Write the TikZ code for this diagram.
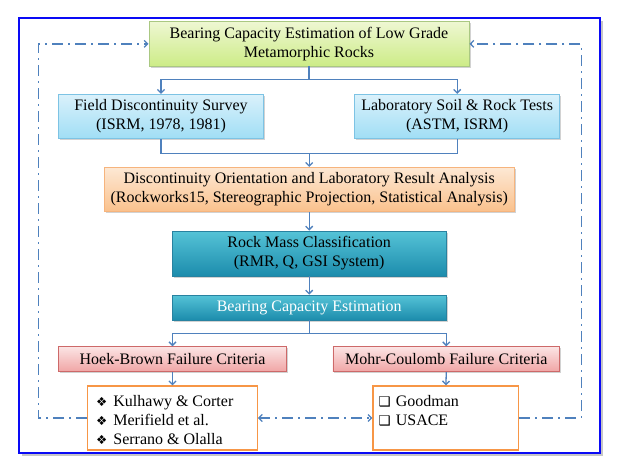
\documentclass[tikz,border=0pt]{standalone}
\usepackage{fontspec}
\setmainfont{Liberation Serif}
\newfontfamily\dejavu{DejaVu Sans}
\usetikzlibrary{arrows.meta,shadows,calc}
\definecolor{conn}{RGB}{79,129,189}
\definecolor{frameblue}{RGB}{10,10,245}
\definecolor{gTop}{RGB}{238,247,210}
\definecolor{gBot}{RGB}{205,236,135}
\definecolor{gBd}{RGB}{170,200,130}
\definecolor{bTop}{RGB}{218,241,251}
\definecolor{bBot}{RGB}{160,222,245}
\definecolor{bBd}{RGB}{125,195,228}
\definecolor{oTop}{RGB}{253,232,212}
\definecolor{oBot}{RGB}{250,193,140}
\definecolor{oBd}{RGB}{246,180,125}
\definecolor{tTop}{RGB}{85,195,215}
\definecolor{tBot}{RGB}{28,140,172}
\definecolor{tBd}{RGB}{40,130,160}
\definecolor{pTop}{RGB}{251,228,228}
\definecolor{pBot}{RGB}{240,165,165}
\definecolor{pBd}{RGB}{205,105,105}
\definecolor{lBd}{RGB}{247,150,70}
\tikzset{
  box/.style={draw, line width=0.8pt, align=center, inner sep=0pt,
    font=\fontsize{16}{19}\selectfont,
    drop shadow={shadow xshift=1.5pt, shadow yshift=-1.5pt, opacity=0.35}},
  greenbox/.style={box, draw=gBd, top color=gTop, bottom color=gBot},
  bluebox/.style={box, draw=bBd, top color=bTop, bottom color=bBot},
  orangebox/.style={box, draw=oBd, top color=oTop, bottom color=oBot},
  tealbox/.style={box, draw=tBd, top color=tTop, bottom color=tBot},
  pinkbox/.style={box, draw=pBd, top color=pTop, bottom color=pBot},
  listbox/.style={draw=lBd, line width=1.2pt, fill=white, inner sep=0pt},
  listtext/.style={anchor=north west, inner sep=0pt, align=left,
    font=\fontsize{16}{19}\selectfont},
  arr/.style={draw=conn, line width=1.3pt, -{Straight Barb[length=3.5pt,width=7pt]}},
  ln/.style={draw=conn, line width=1.3pt},
  dd/.style={draw=conn, line width=1.3pt,
    dash pattern=on 11pt off 5pt on 2pt off 5pt},
  ddtip/.style={-{Straight Barb[length=3.5pt,width=7pt]}}
}
\newcommand{\dia}{{\dejavu\fontsize{12.5}{19}\selectfont ❖}\hspace{6pt}}
\newcommand{\sqb}{{\dejavu\fontsize{13.5}{19}\selectfont ❑}\hspace{5pt}}
\begin{document}
\begin{tikzpicture}[x=1pt,y=-1pt]
\useasboundingbox (0,0) rectangle (633,464);
% frame
\path[draw=frameblue, line width=2pt, fill=white,
  drop shadow={shadow xshift=3pt, shadow yshift=-3pt, opacity=0.45}]
  (19.3,18.3) rectangle (600,452.7);
% nodes
\node[greenbox, minimum width=320pt, minimum height=44.3pt] (title) at (309,43.85)
  {Bearing Capacity Estimation of Low Grade\\Metamorphic Rocks};
\node[bluebox, minimum width=205.4pt, minimum height=44.5pt] (field) at (161,116.5)
  {Field Discontinuity Survey\\(ISRM, 1978, 1981)};
\node[bluebox, minimum width=205pt, minimum height=44.5pt] (lab) at (457.2,116.5)
  {Laboratory Soil \& Rock Tests\\(ASTM, ISRM)};
\node[orangebox, minimum width=410.3pt, minimum height=44.4pt] (orange) at (309.2,189.5)
  {Discontinuity Orientation and Laboratory Result Analysis\\(Rockworks15, Stereographic Projection, Statistical Analysis)};
\node[tealbox, minimum width=273.7pt, minimum height=45pt] (rmc) at (309.2,253.5)
  {Rock Mass Classification\\(RMR, Q, GSI System)};
\node[tealbox, minimum width=273.7pt, minimum height=25pt, text=white] (bce) at (309.2,307.5)
  {Bearing Capacity Estimation};
\node[pinkbox, minimum width=228.4pt, minimum height=25pt] (hoek) at (172.5,359.2)
  {Hoek-Brown Failure Criteria};
\node[pinkbox, minimum width=226.7pt, minimum height=25pt] (mohr) at (446.3,359.2)
  {Mohr-Coulomb Failure Criteria};
\node[listbox, minimum width=169.6pt, minimum height=64pt] (llist) at (172.5,418) {};
\node[listbox, minimum width=145.7pt, minimum height=64pt] (rlist) at (445.9,418) {};
% list texts
\node[listtext] (ltext) at (96,395)
  {\dia Kulhawy \& Corter\\ \dia Merifield et al.\\ \dia Serrano \& Olalla};
\node[listtext] (rtext) at (378.5,395)
  {\sqb Goodman\\ \sqb USACE};
% connectors
\draw[arr] (title.south) -- ++(0,13.3) -| (field.north);
\draw[arr] (title.south) -- ++(0,13.3) -| (lab.north);
\coordinate (m1) at (309.2,153.3);
\draw[ln] (field.south) |- (m1) -| (lab.south);
\draw[arr] (m1) -- (orange.north);
\draw[arr] (orange.south) -- (rmc.north);
\draw[arr] (rmc.south) -- (bce.north);
\draw[arr] (bce.south) -- ++(0,13.3) -| (hoek.north);
\draw[arr] (bce.south) -- ++(0,13.3) -| (mohr.north);
\draw[arr] (hoek.south) -- (llist.north);
\draw[arr] (mohr.south) -- (rlist.north);
% dash-dot feedback loop
\coordinate (bl) at (38.3,418);
\coordinate (tl) at (38.3,43.85);
\coordinate (br) at (581.3,418);
\coordinate (tr) at (581.3,43.85);
\draw[dd, ddtip] (llist.west) -- (bl) -- (tl) -- (title.west);
\draw[dd, ddtip] (rlist.east) -- (br) -- (tr) -- (title.east);
\draw[dd, {Straight Barb[length=3.5pt,width=7pt]}-{Straight Barb[length=3.5pt,width=7pt]}] (llist.east) -- (rlist.west);
\end{tikzpicture}
\end{document}
